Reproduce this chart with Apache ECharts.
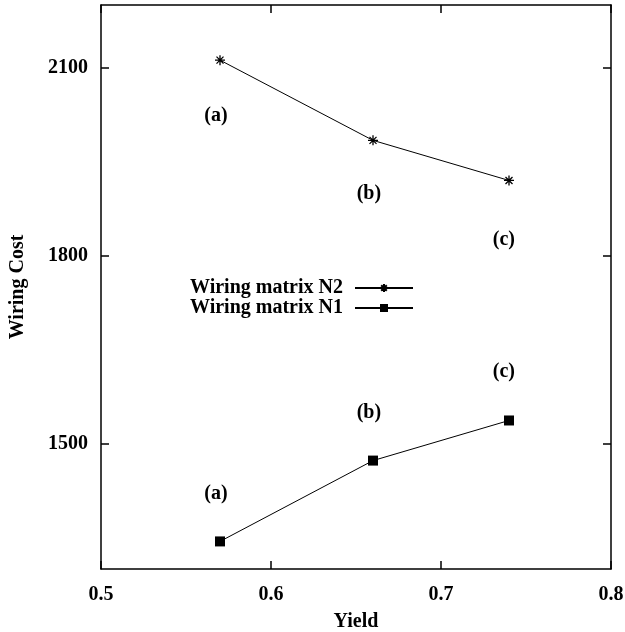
<!DOCTYPE html>
<html>
<head>
<meta charset="utf-8">
<script src="https://cdn.jsdelivr.net/npm/echarts@6/dist/echarts.min.js"></script>
<style>
html,body{margin:0;padding:0;background:#fff;}
#chart{width:625px;height:632px;}
</style>
</head>
<body>
<div id="chart"></div>
<script>
// ---- data ----
const yieldN2 = [0.57, 0.66, 0.74];
const costN2 = [2112, 1984, 1920];
const yieldN1 = [0.57, 0.66, 0.74];
const costN1 = [1344, 1473, 1537];
const labelTexts = ['(a)', '(b)', '(c)'];
const labelYieldN2 = [0.5676, 0.6576, 0.737];
const labelCostN2 = [2023, 1898, 1826];
const labelYieldN1 = [0.5676, 0.6576, 0.737];
const labelCostN1 = [1420, 1550, 1614];
const yTicks = [1500, 1800, 2100];
const xTicks = [0.5, 0.6, 0.7, 0.8];
const seriesNames = ['Wiring matrix N2', 'Wiring matrix N1'];

const FONT = '"Liberation Serif","DejaVu Serif",serif';
const asterisk = 'path://M0,5L10,5M5,0L5,10M1.5,1.5L8.5,8.5M1.5,8.5L8.5,1.5';

function pairs(xs, ys) { return xs.map((x, i) => [x, ys[i]]); }
function labelPairs(xs, ys) { return xs.map((x, i) => [x, ys[i], labelTexts[i]]); }

const axisLineStyle = { show: true, lineStyle: { color: '#000', width: 1.5 } };
const tickStyle = { show: true, inside: true, length: 8, lineStyle: { color: '#000', width: 1.5 } };
const labelFont = { color: '#000', fontFamily: FONT, fontWeight: 'bold', fontSize: 20 };
const annLabel = { show: true, position: 'inside', formatter: p => p.data[2], color: '#000', fontFamily: FONT, fontWeight: 'bold', fontSize: 20 };

const chart = echarts.init(document.getElementById('chart'));
chart.setOption({
  animation: false,
  backgroundColor: '#fff',
  grid: { left: 101, right: 14, top: 5, bottom: 63, containLabel: false, outerBoundsMode: 'none' },
  legend: {
    show: true,
    data: seriesNames,
    orient: 'vertical',
    align: 'right',
    right: 206,
    top: 273,
    itemWidth: 58,
    itemHeight: 10,
    itemGap: 0,
    textStyle: { color: '#000', fontFamily: FONT, fontWeight: 'bold', fontSize: 20, padding: [0, 7, 0, 0] }
  },
  xAxis: [
    {
      type: 'value', min: 0.5, max: 0.8, interval: 0.1,
      name: 'Yield', nameLocation: 'middle', nameGap: 43,
      nameTextStyle: labelFont,
      axisLine: axisLineStyle, axisTick: tickStyle,
      axisLabel: Object.assign({ margin: 16, formatter: v => String(Math.round(v * 10) / 10) }, labelFont),
      splitLine: { show: false }
    },
    {
      type: 'value', min: 0.5, max: 0.8, interval: 0.1, position: 'top',
      axisLine: axisLineStyle, axisTick: tickStyle,
      axisLabel: { show: false }, splitLine: { show: false }
    }
  ],
  yAxis: [
    {
      type: 'value', min: 1300, max: 2200,
      name: 'Wiring Cost', nameLocation: 'middle', nameGap: 73, nameRotate: 90,
      nameTextStyle: labelFont,
      axisLine: axisLineStyle,
      axisTick: Object.assign({ customValues: yTicks }, tickStyle),
      axisLabel: Object.assign({ margin: 13, customValues: yTicks, formatter: v => String(v) }, labelFont),
      splitLine: { show: false }
    },
    {
      type: 'value', min: 1300, max: 2200, position: 'right',
      axisLine: axisLineStyle,
      axisTick: Object.assign({ customValues: yTicks }, tickStyle),
      axisLabel: { show: false, customValues: yTicks },
      splitLine: { show: false }
    }
  ],
  series: [
    {
      name: seriesNames[0], type: 'line', data: pairs(yieldN2, costN2),
      symbol: asterisk, symbolSize: 10, showAllSymbol: true,
      lineStyle: { color: '#000', width: 1 },
      itemStyle: { color: '#000', borderColor: '#000', borderWidth: 1.3 }
    },
    {
      name: seriesNames[1], type: 'line', data: pairs(yieldN1, costN1),
      symbol: 'rect', symbolSize: 10,
      lineStyle: { color: '#000', width: 1 },
      itemStyle: { color: '#000', borderWidth: 0 }
    },
    {
      type: 'scatter', data: labelPairs(labelYieldN2, labelCostN2), symbolSize: 0,
      itemStyle: { opacity: 1, color: '#000' },
      label: annLabel, silent: true
    },
    {
      type: 'scatter', data: labelPairs(labelYieldN1, labelCostN1), symbolSize: 0,
      itemStyle: { opacity: 1, color: '#000' },
      label: annLabel, silent: true
    }
  ]
});
</script>
</body>
</html>
